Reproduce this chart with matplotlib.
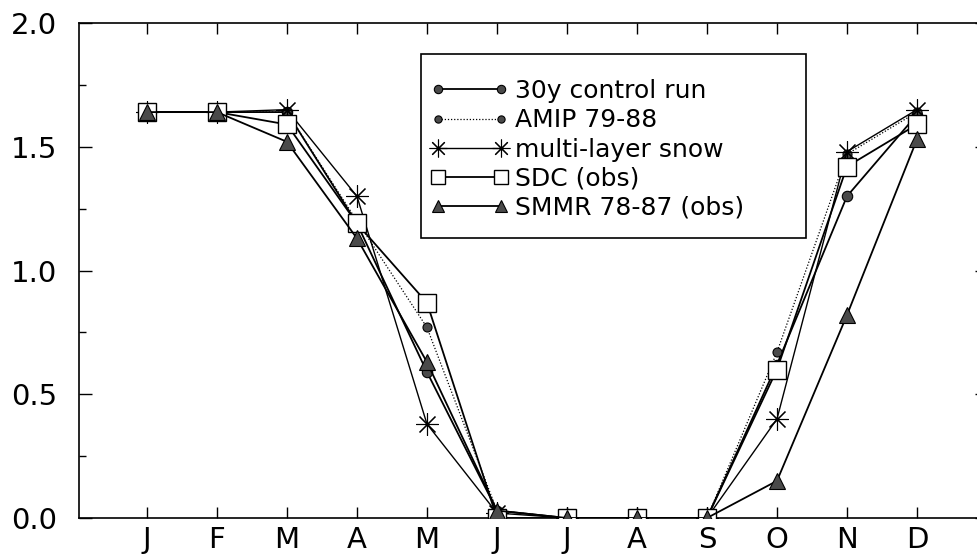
import matplotlib
matplotlib.use("Agg")
import matplotlib.pyplot as plt
from matplotlib.patches import Rectangle
from matplotlib.ticker import MultipleLocator

months = ["J", "F", "M", "A", "M", "J", "J", "A", "S", "O", "N", "D"]
control_30y = [1.64, 1.64, 1.64, 1.19, 0.59, 0.03, 0.0, 0.0, 0.0, 0.62, 1.30, 1.63]
amip_79_88 = [1.64, 1.64, 1.64, 1.20, 0.77, 0.03, 0.0, 0.0, 0.0, 0.67, 1.47, 1.64]
multi_layer = [1.64, 1.64, 1.65, 1.30, 0.38, 0.02, 0.0, 0.0, 0.0, 0.40, 1.48, 1.65]
sdc_obs = [1.64, 1.64, 1.59, 1.19, 0.87, 0.0, 0.0, 0.0, 0.0, 0.60, 1.42, 1.59]
smmr_obs = [1.64, 1.64, 1.52, 1.13, 0.63, 0.03, 0.0, 0.0, 0.0, 0.15, 0.82, 1.53]
labels = ["30y control run", "AMIP 79-88", "multi-layer snow", "SDC (obs)", "SMMR 78-87 (obs)"]

plt.rcParams['font.family'] = ['DejaVu Sans']

W, H = 977, 558
fig = plt.figure(figsize=(W / 100, H / 100), dpi=100)
L, R, T, B = 79, 987, 23, 518
ax = fig.add_axes([L / W, 1 - B / H, (R - L) / W, (B - T) / H])

x = list(range(1, 13))
gray = "#4a4a4a"
ax.plot(x, control_30y, color="black", lw=1.3, marker="o", ms=7.5,
        mfc=gray, mec="black", mew=0.8, label=labels[0], zorder=3)
ax.plot(x, amip_79_88, color="black", lw=0.9, ls=(0, (1, 1.5)), marker="o", ms=6.5,
        mfc=gray, mec="black", mew=0.8, label=labels[1], zorder=3)
ax.plot(x, multi_layer, color="black", lw=1.0, marker=(8, 2, 0), ms=16,
        mec="black", mew=0.8, label=labels[2], zorder=3)
ax.plot(x, sdc_obs, color="black", lw=1.3, marker="s", ms=12.5,
        mfc="white", mec="black", mew=1.0, label=labels[3], zorder=3)
ax.plot(x, smmr_obs, color="black", lw=1.3, marker="^", ms=11,
        mfc=gray, mec="black", mew=0.8, label=labels[4], zorder=4)

ax.set_xlim(0.03, 13)
ax.set_ylim(0, 2.0)
ax.set_xticks(x)
ax.set_xticklabels(months)
ax.set_yticks([0, 0.5, 1.0, 1.5, 2.0])
ax.set_yticklabels(["0.0", "0.5", "1.0", "1.5", "2.0"])
ax.yaxis.set_minor_locator(MultipleLocator(0.25))
ax.tick_params(axis="both", which="both", direction="in", top=True, right=True,
               colors="black", width=1.0)
ax.tick_params(axis="x", which="major", length=8, pad=6, labelsize=21)
ax.tick_params(axis="y", which="major", length=9, pad=16, labelsize=21)
ax.tick_params(axis="y", which="minor", length=5)
for s in ax.spines.values():
    s.set_linewidth(1.2)

# legend
def ax_x(px):
    return (px - L) / (R - L)

def ax_y(py):
    return (B - py) / (B - T)

leg = ax.legend(loc="upper left", bbox_to_anchor=(ax_x(405), ax_y(54)),
                frameon=False, fontsize=18, numpoints=2, handlelength=3.15,
                handletextpad=0.26, labelspacing=0.21, borderpad=1.0,
                borderaxespad=0, markerscale=0.8)
box = Rectangle((ax_x(421), ax_y(238)), ax_x(806) - ax_x(421), ax_y(54) - ax_y(238),
                transform=ax.transAxes, fill=False, ec="black", lw=1.2, zorder=5)
ax.add_patch(box)

fig.savefig("out.png", dpi=100)
